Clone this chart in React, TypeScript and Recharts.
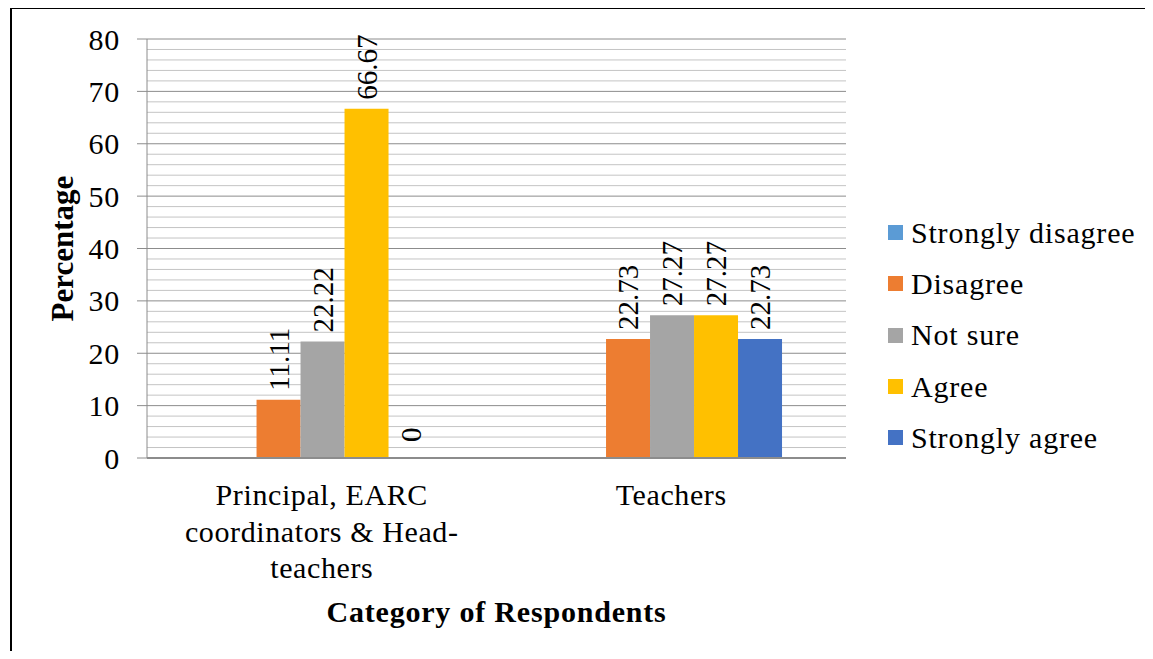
import { BarChart, Bar, XAxis, YAxis, CartesianGrid, Legend, LabelList } from 'recharts';

const CATEGORIES = ['Principal, EARC\ncoordinators & Head-\nteachers', 'Teachers'];

const STRONGLY_DISAGREE: (number | null)[] = [null, null];
const DISAGREE = [11.11, 22.73];
const NOT_SURE = [22.22, 27.27];
const AGREE = [66.67, 27.27];
const STRONGLY_AGREE = [0, 22.73];

// every 2 units gets a grid line, every 10 gets a label
const Y_TICKS = [0, 2, 4, 6, 8, 10, 12, 14, 16, 18, 20, 22, 24, 26, 28, 30, 32, 34, 36, 38, 40,
  42, 44, 46, 48, 50, 52, 54, 56, 58, 60, 62, 64, 66, 68, 70, 72, 74, 76, 78, 80];
const MAJOR_STEP = 10;

const SERIES = [
  { key: 'sd', name: 'Strongly disagree', color: '#5B9BD5', values: STRONGLY_DISAGREE },
  { key: 'd', name: 'Disagree', color: '#ED7D31', values: DISAGREE },
  { key: 'ns', name: 'Not sure', color: '#A5A5A5', values: NOT_SURE },
  { key: 'a', name: 'Agree', color: '#FFC000', values: AGREE },
  { key: 'sa', name: 'Strongly agree', color: '#4472C4', values: STRONGLY_AGREE },
];

const data = CATEGORIES.map((cat, i) => {
  const row: any = { category: cat };
  SERIES.forEach((s) => { row[s.key] = s.values[i]; });
  return row;
});

const FONT = 'Liberation Serif';
const MAJOR_GRID = '#8C8C8C';
const MINOR_GRID = '#C4C4C4';
const TICK_SIZE = 10;
const TICK_MARGIN = 17;

const isMajor = (v: number) => v % MAJOR_STEP === 0;

// category labels can span several lines
const CategoryTick = ({ x, y, payload }: any) => {
  const lines = String(payload.value).split('\n');
  return (
    <text x={x} y={y} textAnchor="middle" fill="#000" style={{ fontFamily: FONT, fontSize: 30, letterSpacing: 0.6 }}>
      {lines.map((line, i) => (
        <tspan key={i} x={x} dy={i === 0 ? 47 : 36.5}>{line}</tspan>
      ))}
    </text>
  );
};

const YTick = ({ x, y, payload }: any) => {
  if (!isMajor(payload.value)) return <g />;
  const lineStart = x + TICK_MARGIN;
  return (
    <g>
      <line x1={lineStart} x2={lineStart + TICK_SIZE} y1={y} y2={y} stroke={MAJOR_GRID} />
      <text x={x} y={y} textAnchor="end" dominantBaseline="central" fill="#000"
        style={{ fontFamily: FONT, fontSize: 30, letterSpacing: 0.8 }}>
        {payload.value}
      </text>
    </g>
  );
};

const GridLine = (p: any) => {
  const v = Y_TICKS[p.index];
  return (
    <line
      key={p.key}
      x1={p.x1}
      x2={p.x2}
      y1={p.y1}
      y2={p.y2}
      stroke={v !== undefined && isMajor(v) ? MAJOR_GRID : MINOR_GRID}
      strokeWidth={1}
    />
  );
};

const VerticalValue = (props: any) => {
  const { x, y, width, value } = props;
  if (value === null || value === undefined) return null;
  const cx = x + width / 2;
  const cy = y - (value === 0 ? 16 : 9);
  return (
    <text
      x={cx}
      y={cy}
      transform={`rotate(-90 ${cx} ${cy})`}
      textAnchor="start"
      dominantBaseline="central"
      fill="#000"
      style={{ fontFamily: FONT, fontSize: 29 }}
    >
      {value}
    </text>
  );
};

const LegendBox = () => (
  <div style={{ fontFamily: FONT, fontSize: 30, color: '#000', letterSpacing: 0.8 }}>
    {SERIES.map((s) => (
      <div key={s.key} style={{ display: 'flex', alignItems: 'center', height: 51.3 }}>
        <span style={{ width: 15, height: 15, background: s.color, marginRight: 8, display: 'inline-block' }} />
        <span style={{ whiteSpace: 'nowrap' }}>{s.name}</span>
      </div>
    ))}
  </div>
);

export default function App() {
  return (
    <div style={{ position: 'relative', width: 1137, height: 643, fontFamily: FONT }}>
      <div
        style={{
          position: 'absolute', left: 2, top: -1, width: 1141, height: 650,
          borderTop: '2px solid #000', borderLeft: '2px solid #000',
        }}
      />
      <BarChart
        width={1137}
        height={643}
        data={data}
        margin={{ top: 31, right: 299, bottom: 0, left: 0 }}
        barCategoryGap="18.75%"
        barGap={0}
        style={{ fontFamily: FONT }}
      >
        <CartesianGrid vertical={false} horizontal={GridLine} />
        <XAxis
          dataKey="category"
          height={193}
          tick={<CategoryTick />}
          tickLine={false}
          tickSize={0}
          tickMargin={0}
          interval={0}
          axisLine={{ stroke: MAJOR_GRID, strokeWidth: 2 }}
          label={{
            value: 'Category of Respondents',
            position: 'insideBottom',
            offset: 29,
            style: { fontFamily: FONT, fontSize: 30, fontWeight: 'bold', fill: '#000', letterSpacing: 0.8 },
          }}
        />
        <YAxis
          width={139}
          domain={[0, 80]}
          ticks={Y_TICKS}
          interval={0}
          tickSize={TICK_SIZE}
          tickMargin={TICK_MARGIN}
          tick={<YTick />}
          tickLine={false}
          axisLine={{ stroke: MAJOR_GRID }}
          label={{
            value: 'Percentage',
            angle: -90,
            position: 'insideLeft',
            offset: 54,
            style: { textAnchor: 'middle', fontFamily: FONT, fontSize: 31, fontWeight: 'bold', fill: '#000' },
          }}
        />
        {SERIES.map((s) => (
          <Bar key={s.key} dataKey={s.key} name={s.name} fill={s.color} minPointSize={0.01} isAnimationActive={false}>
            <LabelList dataKey={s.key} content={<VerticalValue />} />
          </Bar>
        ))}
        <Legend
          layout="vertical"
          align="center"
          verticalAlign="middle"
          content={<LegendBox />}
          wrapperStyle={{ left: 880, top: 199, width: 257 }}
        />
      </BarChart>
    </div>
  );
}
